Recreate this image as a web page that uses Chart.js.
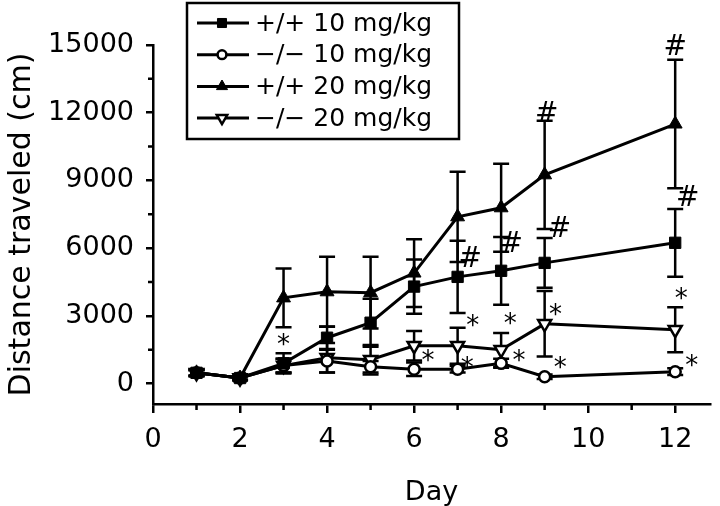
<!DOCTYPE html>
<html>
<head>
<meta charset="utf-8">
<script src="https://cdn.jsdelivr.net/npm/chart.js@4.4.1/dist/chart.umd.min.js"></script>
<style>
  html, body { margin: 0; background: #fff; }
  canvas { display: block; }
</style>
</head>
<body>
<canvas id="chart" width="720" height="506"></canvas>
<script>
"use strict";

/* ---- data ---- */
const DAYS = [1, 2, 3, 4, 5, 6, 7, 8, 9, 12];
const SERIES_LABELS = ["+/+ 10 mg/kg", "\u2212/\u2212 10 mg/kg", "+/+ 20 mg/kg", "\u2212/\u2212 20 mg/kg"];

const WT10_MEAN = [480, 250, 900, 2035, 2700, 4300, 4730, 5000, 5350, 6240];
const WT10_SEM  = [150, 100, 450, 500, 1060, 1200, 1600, 1500, 1100, 1500];
const KO10_MEAN = [480, 250, 800, 1000, 750, 640, 640, 900, 310, 530];
const KO10_SEM  = [120, 80, 300, 500, 250, 300, 150, 200, 100, 150];
const WT20_MEAN = [480, 250, 3800, 4070, 4030, 4900, 7390, 7790, 9250, 11500];
const WT20_SEM  = [150, 100, 1300, 1550, 1590, 1500, 2000, 1950, 2400, 2850];
const KO20_MEAN = [480, 250, 800, 1150, 1060, 1680, 1680, 1500, 2650, 2390];
const KO20_SEM  = [120, 80, 300, 650, 650, 650, 800, 750, 1450, 1000];

// significance marks: [day, value]
const STARS  = [[3, 1900], [6.32, 1150], [7.35, 2740], [7.22, 840], [8.21, 2830], [8.41, 1150],
                [9.25, 3190], [9.36, 840], [12.14, 3900], [12.38, 930]];
const HASHES = [[7.29, 5490], [8.23, 6150], [9.34, 6810], [9.05, 11900], [12.29, 8190], [12.0, 14900]];

const X_TICKS = [0, 2, 4, 6, 8, 10, 12];
const X_MINOR = [1, 3, 5, 7, 9, 11];
const Y_TICKS = [0, 3000, 6000, 9000, 12000, 15000];
const Y_MINOR = [1500, 4500, 7500, 10500, 13500];

const FONT = "'DejaVu Sans', sans-serif";

const MEANS = [WT10_MEAN, KO10_MEAN, WT20_MEAN, KO20_MEAN];
const SEMS = [WT10_SEM, KO10_SEM, WT20_SEM, KO20_SEM];
// marker look per series: square filled, circle open, triangle filled, inverted triangle open
const MARKERS = [
  { pointStyle: "rect", radius: 8, rotation: 0, fill: "#000", borderWidth: 1 },
  { pointStyle: "circle", radius: 5.5, rotation: 0, fill: "#fff", borderWidth: 2.5 },
  { pointStyle: "triangle", radius: 8, rotation: 0, fill: "#000", borderWidth: 1 },
  { pointStyle: "triangle", radius: 7.5, rotation: 180, fill: "#fff", borderWidth: 2.5 },
];

function dataset(i) {
  const m = MARKERS[i];
  return {
    label: SERIES_LABELS[i],
    data: DAYS.map((d, k) => ({ x: d, y: MEANS[i][k] })),
    sem: SEMS[i],
    borderColor: "#000",
    borderWidth: 3,
    pointStyle: m.pointStyle,
    pointRotation: m.rotation,
    pointRadius: m.radius,
    pointBackgroundColor: m.fill,
    pointBorderColor: "#000",
    pointBorderWidth: m.borderWidth,
    tension: 0,
    clip: false,
  };
}

/* ---- plugins ---- */

const errorBars = {
  id: "errorBars",
  beforeDatasetsDraw(chart) {
    const { ctx, scales: { x, y } } = chart;
    ctx.save();
    ctx.strokeStyle = "#000";
    ctx.lineWidth = 2.5;
    chart.data.datasets.forEach((ds) => {
      ds.data.forEach((p, k) => {
        const px = x.getPixelForValue(p.x);
        const top = y.getPixelForValue(p.y + ds.sem[k]);
        const bot = y.getPixelForValue(p.y - ds.sem[k]);
        ctx.beginPath();
        ctx.moveTo(px, top); ctx.lineTo(px, bot);
        ctx.moveTo(px - 8, top); ctx.lineTo(px + 8, top);
        ctx.moveTo(px - 8, bot); ctx.lineTo(px + 8, bot);
        ctx.stroke();
      });
    });
    ctx.restore();
  },
};

const marks = {
  id: "marks",
  afterDatasetsDraw(chart) {
    const { ctx, scales: { x, y } } = chart;
    ctx.save();
    ctx.fillStyle = "#000";
    ctx.textAlign = "center";
    ctx.textBaseline = "middle";
    ctx.font = `26px ${FONT}`;
    STARS.forEach(([d, v]) => ctx.fillText("*", x.getPixelForValue(d), y.getPixelForValue(v) + 5));
    ctx.font = `28px ${FONT}`;
    HASHES.forEach(([d, v]) => ctx.fillText("#", x.getPixelForValue(d), y.getPixelForValue(v)));
    ctx.restore();
  },
};

const minorTicks = {
  id: "minorTicks",
  afterDraw(chart) {
    const { ctx, scales: { x, y }, chartArea } = chart;
    ctx.save();
    ctx.strokeStyle = "#000";
    ctx.lineWidth = 2.5;
    ctx.beginPath();
    X_MINOR.forEach((d) => {
      const px = x.getPixelForValue(d);
      ctx.moveTo(px, chartArea.bottom); ctx.lineTo(px, chartArea.bottom + 6);
    });
    Y_MINOR.forEach((v) => {
      const py = y.getPixelForValue(v);
      ctx.moveTo(chartArea.left, py); ctx.lineTo(chartArea.left - 5, py);
    });
    ctx.stroke();
    ctx.restore();
  },
};

// boxed legend sitting over the top of the plot, line-marker-line samples
const boxLegend = {
  id: "boxLegend",
  afterDraw(chart) {
    const { ctx } = chart;
    ctx.save();
    ctx.fillStyle = "#fff";
    ctx.fillRect(187, 3, 272, 136);
    ctx.strokeStyle = "#000";
    ctx.lineWidth = 2.5;
    ctx.strokeRect(187, 3, 272, 136);
    ctx.font = `25px ${FONT}`;
    ctx.textBaseline = "middle";
    ctx.textAlign = "left";
    chart.data.datasets.forEach((ds, i) => {
      const rowY = 23 + i * 31.7;
      ctx.strokeStyle = "#000";
      ctx.lineWidth = 3;
      ctx.beginPath();
      ctx.moveTo(197, rowY); ctx.lineTo(249, rowY);
      ctx.stroke();
      const m = MARKERS[i];
      ctx.fillStyle = m.fill;
      ctx.lineWidth = m.borderWidth;
      Chart.helpers.drawPoint(ctx, {
        pointStyle: m.pointStyle, radius: m.radius * 0.8, rotation: m.rotation, borderWidth: m.borderWidth,
      }, 222, rowY);
      ctx.fillStyle = "#000";
      ctx.fillText(ds.label, 255, rowY + 1);
    });
    ctx.restore();
  },
};

/* ---- chart ---- */

const axisCommon = {
  type: "linear",
  border: { color: "#000", width: 2.5 },
  grid: { drawOnChartArea: false, color: "#000", lineWidth: 2.5 },
};

new Chart(document.getElementById("chart"), {
  type: "line",
  data: { datasets: SERIES_LABELS.map((_, i) => dataset(i)) },
  options: {
    responsive: false,
    devicePixelRatio: 1,
    animation: false,
    layout: { padding: { top: 45, right: 0, bottom: 0, left: 0 } },
    plugins: { legend: { display: false }, tooltip: { enabled: false } },
    scales: {
      x: {
        ...axisCommon,
        min: 0,
        max: 12.8,
        grid: { ...axisCommon.grid, tickLength: 9 },
        afterBuildTicks: (s) => { s.ticks = X_TICKS.map((v) => ({ value: v })); },
        afterFit: (s) => { s.height = 102; },
        ticks: { color: "#000", font: { family: FONT, size: 27 }, padding: 11, maxRotation: 0, autoSkip: false },
        title: { display: true, text: "Day", color: "#000", font: { family: FONT, size: 27, lineHeight: 1 }, padding: { top: 0, bottom: 0 } },
      },
      y: {
        ...axisCommon,
        min: -900,
        max: 15000,
        grid: { ...axisCommon.grid, tickLength: 7 },
        afterBuildTicks: (s) => { s.ticks = Y_TICKS.map((v) => ({ value: v })); },
        afterFit: (s) => { s.width = 153; },
        ticks: { color: "#000", font: { family: FONT, size: 27 }, padding: 12, callback: (v) => String(v) },
        title: { display: true, text: "Distance traveled (cm)", color: "#000", font: { family: FONT, size: 30, lineHeight: 1 }, padding: { top: 7, bottom: 0 } },
      },
    },
  },
  plugins: [errorBars, marks, minorTicks, boxLegend],
});
</script>
</body>
</html>
